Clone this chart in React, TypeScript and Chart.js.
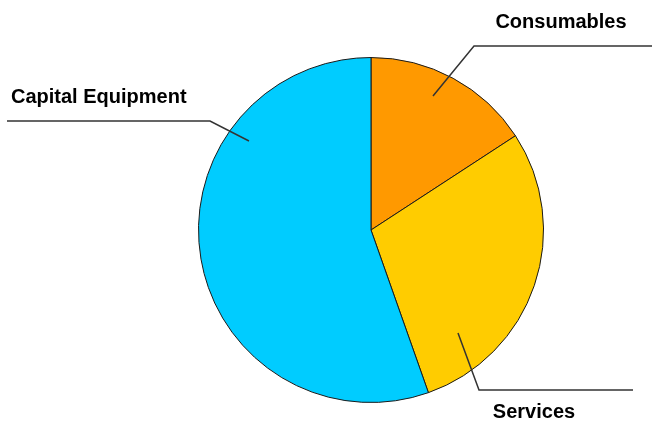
import React, { useEffect, useRef } from "react";
import { Chart, registerables } from "chart.js";

Chart.register(...registerables);

const categories = ["Consumables", "Services", "Capital Equipment"];
const values = [15.8, 28.8, 55.4];
const colors = ["#FF9900", "#FFCC00", "#00CCFF"];

// leader line geometry relative to the pie centre (px)
const leaders = [
  { start: [62, -134], elbow: [103, -184], end: [281, -184], text: [190, -208], align: "center" },
  { start: [87, 103], elbow: [108, 160], end: [262, 160], text: [163, 182], align: "center" },
  { start: [-122, -89], elbow: [-161, -109], end: [-364, -109], text: [-360, -133], align: "left" },
];

const labelPlugin = {
  id: "leaderLabels",
  afterDraw(chart: any) {
    const meta = chart.getDatasetMeta(0);
    const arc = meta.data[0];
    if (!arc) return;
    const cx = arc.x;
    const cy = arc.y;
    const ctx = chart.ctx;
    ctx.save();
    leaders.forEach((l, i) => {
      ctx.beginPath();
      ctx.strokeStyle = "#333333";
      ctx.lineWidth = 1.5;
      ctx.moveTo(cx + l.start[0], cy + l.start[1]);
      ctx.lineTo(cx + l.elbow[0], cy + l.elbow[1]);
      ctx.lineTo(cx + l.end[0], cy + l.end[1]);
      ctx.stroke();
      ctx.fillStyle = "#000000";
      ctx.font = "bold 20px 'Liberation Sans', Arial, sans-serif";
      ctx.textAlign = l.align as CanvasTextAlign;
      ctx.textBaseline = "middle";
      ctx.fillText(categories[i], cx + l.text[0], cy + l.text[1]);
    });
    ctx.restore();
  },
};

export default function App() {
  const ref = useRef<HTMLCanvasElement>(null);
  useEffect(() => {
    document.body.style.margin = "0";
    const chart = new Chart(ref.current!, {
      type: "pie",
      data: {
        labels: categories,
        datasets: [
          {
            data: values,
            backgroundColor: colors,
            borderColor: "#1a1a1a",
            borderWidth: 1,
          },
        ],
      },
      options: {
        responsive: false,
        animation: false,
        layout: { padding: { left: 198, right: 112, top: 57, bottom: 24 } },
        plugins: {
          legend: { display: false },
          tooltip: { enabled: false },
        },
      },
      plugins: [labelPlugin],
    });
    return () => chart.destroy();
  }, []);
  return (
    <div style={{ width: 656, height: 427, background: "#fff" }}>
      <canvas ref={ref} width={656} height={427} />
    </div>
  );
}
